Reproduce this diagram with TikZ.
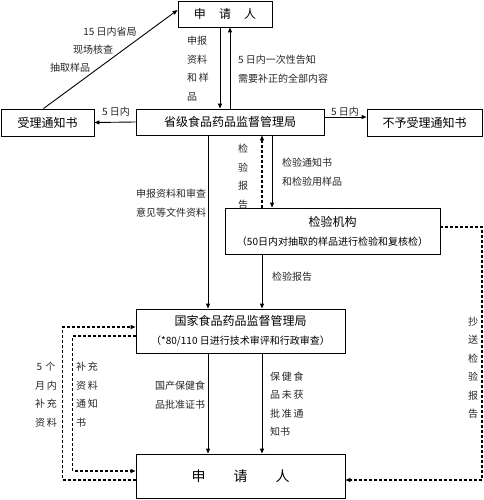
\documentclass[tikz,border=0pt]{standalone}
\usepackage{fontspec}
\setmainfont{Noto Sans CJK SC}
\usetikzlibrary{arrows.meta}
\tikzset{
    box/.style={rectangle, draw, line width=0.9pt, inner sep=0pt, font=\fontsize{12}{19}\selectfont, align=center},
    flow/.style={->, >={Triangle[length=5pt,width=4pt]}, line width=0.9pt},
    dflow/.style={flow, dash pattern=on 3pt off 2pt, line width=1.1pt},
    lbl/.style={font=\fontsize{10}{18.5}\selectfont, inner sep=0pt, align=left, text=black!85}
}

\begin{document}
\begin{tikzpicture}[x=1pt, y=-1pt]
    \useasboundingbox (0,0) rectangle (483,500);

    % boxes
    \node[box, minimum width=94pt, minimum height=26pt] (top) at (225,14) {申\hspace{1.1em}请\hspace{1.1em}人};
    \node[box, minimum width=188pt, minimum height=26pt] (prov) at (230,122) {省级食品药品监督管理局};
    \node[box, minimum width=93pt, minimum height=27pt] (accept) at (47.5,122.5) {受理通知书};
    \node[box, minimum width=115pt, minimum height=27pt] (reject) at (424.5,122.5) {不予受理通知书};
    \node[box, minimum width=215pt, minimum height=46pt] (lab) at (332.5,231) {检验机构\\{\fontsize{10}{19}\selectfont （50日内对抽取的样品进行检验和复核检）}};
    \node[box, minimum width=209pt, minimum height=44pt] (nat) at (240.5,331) {国家食品药品监督管理局\\{\fontsize{10}{19}\selectfont （*80/110 日进行技术审评和行政审查）}};
    \node[box, minimum width=209pt, minimum height=44pt, font=\fontsize{14}{19}\selectfont] (app) at (240.5,476) {申\hspace{2em}请\hspace{2em}人};
    \coordinate (rc) at (482,480);

    % solid connectors
    \draw[flow] ([xshift=-5pt]top.south) -- ([xshift=-5pt]top.south |- prov.north);
    \draw[flow] ([xshift=5pt]top.south |- prov.north) -- ([xshift=5pt]top.south);
    \draw[flow] (prov.west) -- (accept.east);
    \draw[flow] ([yshift=5pt]prov.east) -- ([yshift=5pt]prov.east -| reject.west);
    \draw[flow] ([xshift=-4pt]accept.north) -- ([yshift=4pt]top.west);
    \draw[flow] ([xshift=-22pt]prov.south) -- ([xshift=-22pt]prov.south |- nat.north);
    \draw[flow] ([xshift=42pt]prov.south) -- ([xshift=42pt]prov.south |- lab.north);
    \draw[flow] ([xshift=-70.5pt]lab.south) -- ([xshift=-70.5pt]lab.south |- nat.north);
    \draw[flow] ([xshift=-32.5pt]nat.south) -- ([xshift=-32.5pt]nat.south |- app.north);
    \draw[flow] ([xshift=21.5pt]nat.south) -- ([xshift=21.5pt]nat.south |- app.north);

    % dashed connectors
    \draw[dflow] ([xshift=32pt]prov.south |- lab.north) -- ([xshift=32pt]prov.south);
    \draw[dflow] ([yshift=4pt]lab.east) -| (rc) -- ([yshift=-4pt]app.east);
    \draw[dflow] ([yshift=-4pt]app.west) -- ++(-73,0) |- ([yshift=4pt]nat.west);
    \draw[dflow] ([yshift=-5pt]nat.west) -- ++(-63,0) |- ([yshift=5pt]app.west);

    % labels
    \node[lbl] (l15a) at (110,32) {15 日内省局};
    \node[lbl] (l15b) at (93,50) {现场核查};
    \node[lbl] (l15c) at (70,68) {抽取样品};
    \node[lbl, anchor=west] (lsub) at (187,68.5) {申报\\资料\\和\,样\\品};
    \node[lbl, anchor=west] (ltell) at (238,69) {5 日内一次性告知\\需要补正的全部内容};
    \node[lbl] (lacc) at (116,112) {5 日内};
    \node[lbl] (lrej) at (345,112) {5 日内};
    \node[lbl, align=center] (lrep) at (243,176.5) {检\\验\\报\\告};
    \node[lbl, anchor=west] (lnote) at (282,172) {检验通知书\\和检验用样品};
    \node[lbl] (ldocs) at (171,203) {申报资料和审查\\意见等文件资料};
    \node[lbl] (lrep2) at (292,277) {检验报告};
    \node[lbl, align=center] (lfive) at (46,394.5) {5\,\,个\\月\,内\\补\,充\\资\,料};
    \node[lbl, anchor=west] (lsupp) at (76,394.5) {补\,充\\资\,料\\通\,知\\书};
    \node[lbl, anchor=west] (lcert) at (155,395) {国产保健食\\品批准证书};
    \node[lbl, anchor=west] (lnot) at (270,404) {保\,健\,食\\品\,未\,获\\批\,准\,通\\知书};
    \node[lbl, align=center] (lcopy) at (473,367.5) {抄\\送\\检\\验\\报\\告};
\end{tikzpicture}
\end{document}
